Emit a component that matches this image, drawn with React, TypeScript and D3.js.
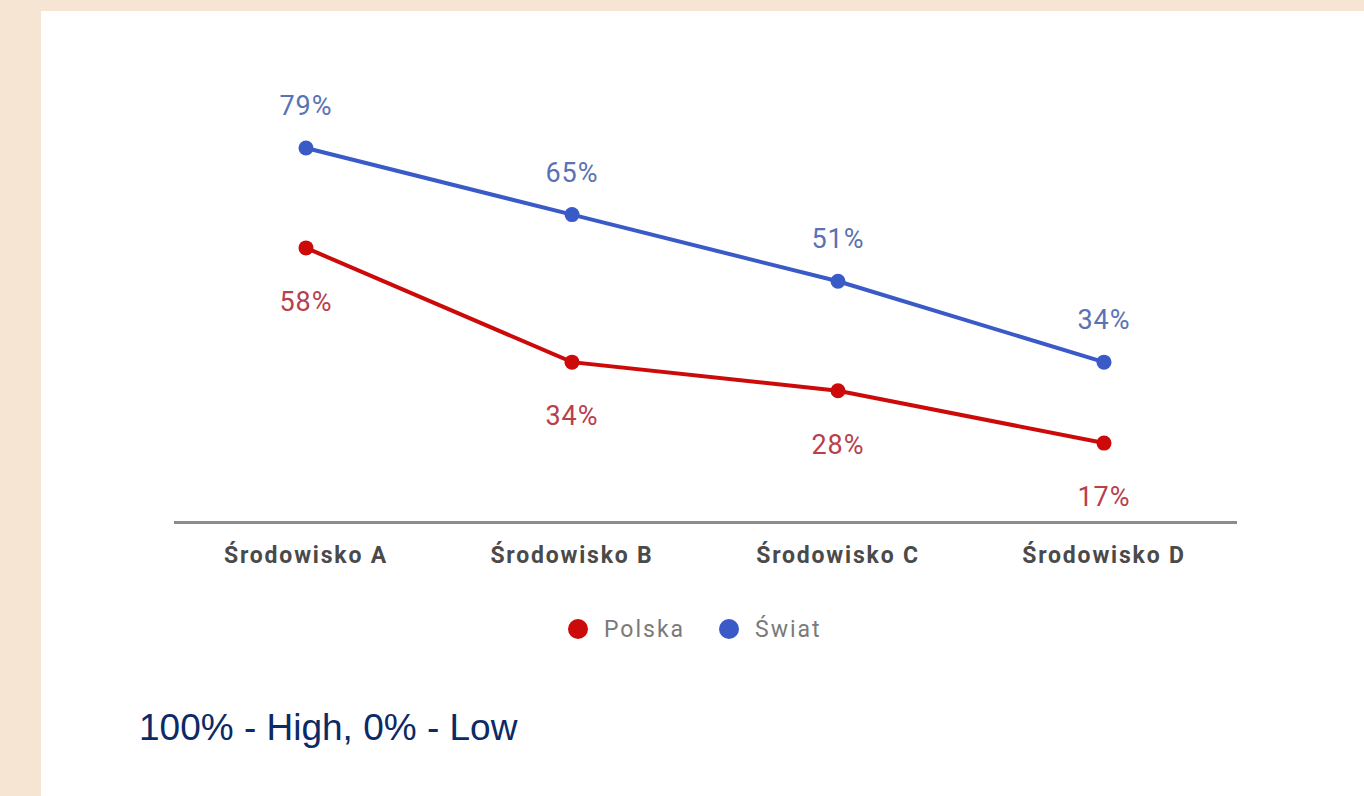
import React, { useEffect, useRef } from 'react';
import * as d3 from 'd3';

const categories = ['Środowisko A', 'Środowisko B', 'Środowisko C', 'Środowisko D'];
const polska = [58, 34, 28, 17];
const swiat = [79, 65, 51, 34];
const seriesNames = ['Polska', 'Świat'];
const caption = '100% - High, 0% - Low';

const App: React.FC = () => {
  const ref = useRef<SVGSVGElement | null>(null);

  useEffect(() => {
    const svg = d3.select(ref.current);
    const width = 1364;
    const height = 796;
    svg.selectAll('*').remove();

    // page background + white panel
    svg.append('rect').attr('width', width).attr('height', height).attr('fill', '#f7e5d4');
    svg.append('rect').attr('x', 41).attr('y', 11).attr('width', width - 41).attr('height', height - 11).attr('fill', '#ffffff');

    const x = d3.scalePoint<string>()
      .domain(categories)
      .range([306, 1104]);

    const y = d3.scaleLinear()
      .domain([0, 100])
      .range([524, 48]);

    // baseline
    svg.append('line')
      .attr('x1', 174).attr('x2', 1237)
      .attr('y1', y(0) - 1.5).attr('y2', y(0) - 1.5)
      .attr('stroke', '#8c8c8c')
      .attr('stroke-width', 3);

    // category labels
    svg.append('g')
      .selectAll('text')
      .data(categories)
      .join('text')
      .attr('x', d => x(d) as number)
      .attr('y', 563)
      .attr('text-anchor', 'middle')
      .attr('font-family', 'Roboto')
      .attr('font-weight', 'bold')
      .attr('font-size', 23)
      .attr('letter-spacing', 1.8)
      .attr('fill', '#4a4a4a')
      .text(d => d);

    const series = [
      { name: seriesNames[0], values: polska, color: '#cc0a0a', label: '#b8404c', dy: 63 },
      { name: seriesNames[1], values: swiat, color: '#3a5ac8', label: '#5a72b4', dy: -33 },
    ];

    const line = d3.line<number>()
      .x((_, i) => x(categories[i]) as number)
      .y(d => y(d));

    series.forEach(s => {
      const g = svg.append('g');
      g.append('path')
        .datum(s.values)
        .attr('fill', 'none')
        .attr('stroke', s.color)
        .attr('stroke-width', 4)
        .attr('d', line);

      g.selectAll('circle')
        .data(s.values)
        .join('circle')
        .attr('cx', (_, i) => x(categories[i]) as number)
        .attr('cy', d => y(d))
        .attr('r', 7.5)
        .attr('fill', s.color);

      g.selectAll('text')
        .data(s.values)
        .join('text')
        .attr('x', (_, i) => x(categories[i]) as number)
        .attr('y', d => y(d) + s.dy)
        .attr('text-anchor', 'middle')
        .attr('font-family', 'Roboto')
        .attr('font-size', 27)
        .attr('letter-spacing', 1)
        .attr('fill', s.label)
        .text(d => `${d}%`);
    });

    // legend
    const legendX = [578, 729];
    series.forEach((s, i) => {
      svg.append('circle')
        .attr('cx', legendX[i]).attr('cy', 629).attr('r', 10)
        .attr('fill', s.color);
      svg.append('text')
        .attr('x', legendX[i] + 26).attr('y', 637)
        .attr('font-family', 'Roboto')
        .attr('font-size', 23)
        .attr('letter-spacing', 2)
        .attr('fill', '#7a7a7a')
        .text(s.name);
    });

    // caption
    svg.append('text')
      .attr('x', 139).attr('y', 740)
      .attr('font-family', 'Liberation Sans, Arial')
      .attr('font-size', 37)
      .attr('fill', '#0c2a66')
      .text(caption);
  }, []);

  return (
    <svg
      ref={ref}
      width={1364}
      height={796}
      style={{ position: 'absolute', left: 0, top: 0, display: 'block' }}
    ></svg>
  );
};

export default App;
